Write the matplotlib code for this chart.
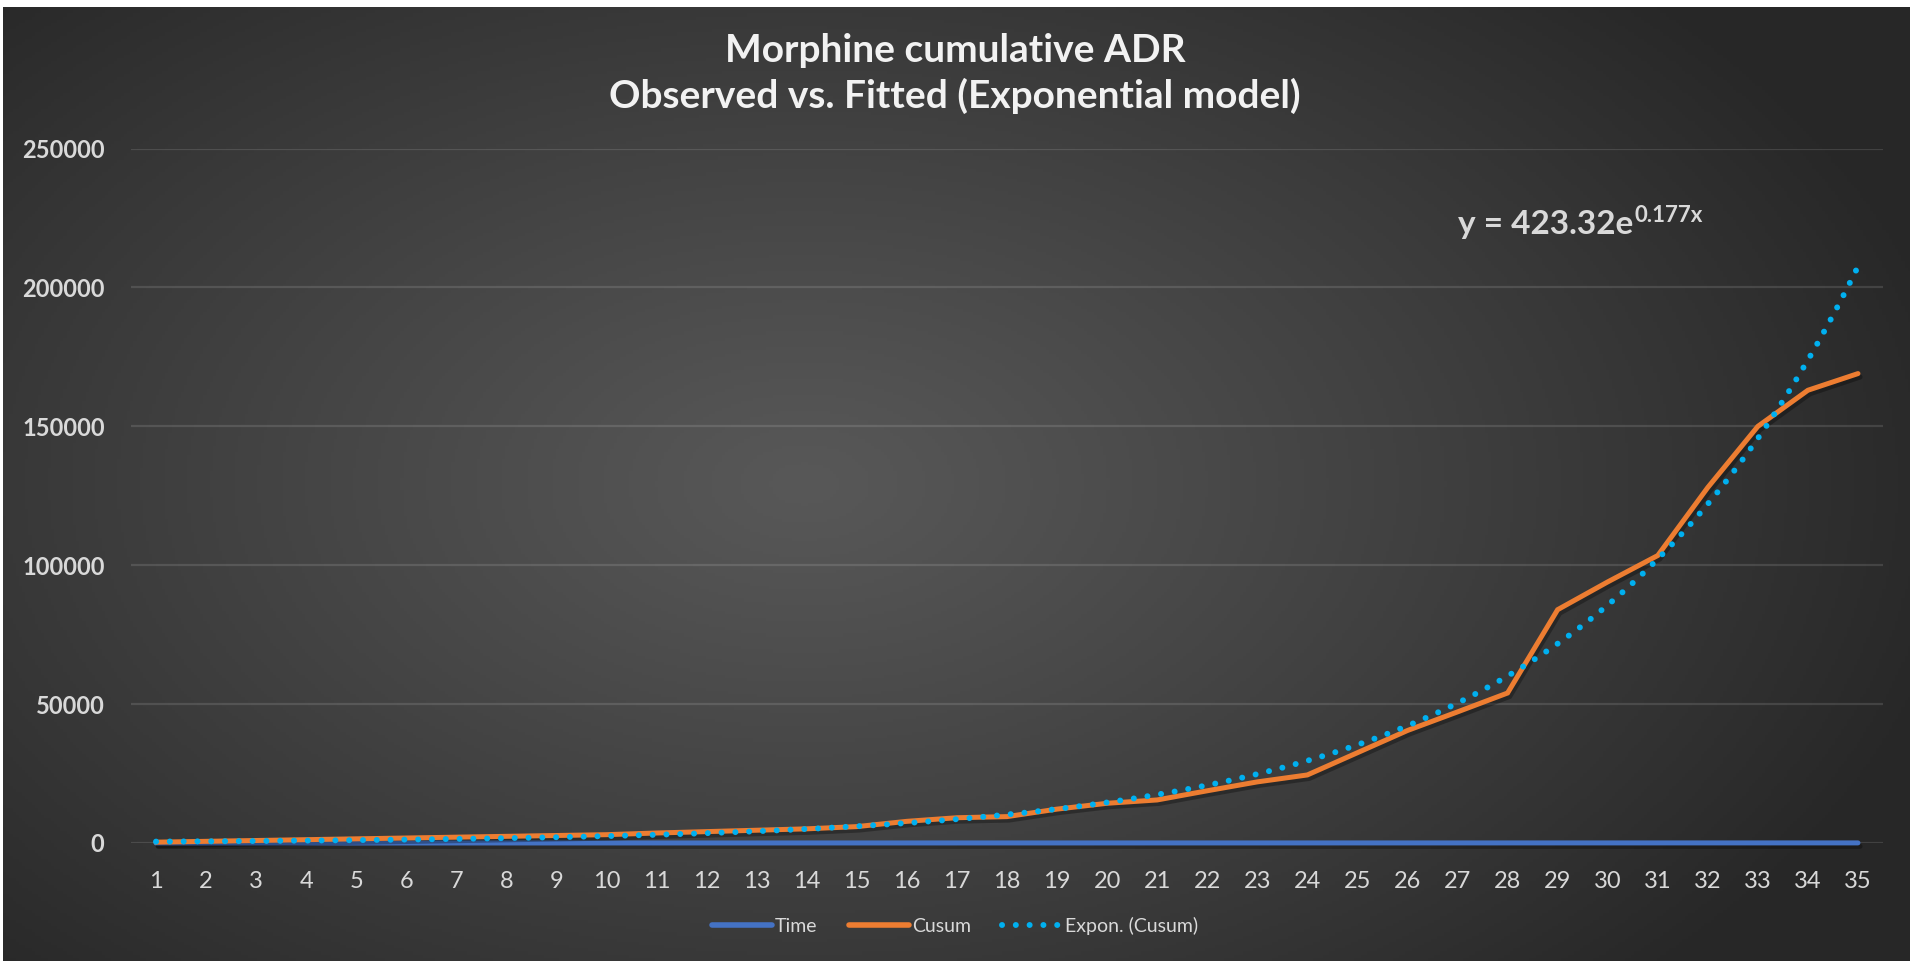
import numpy as np
import matplotlib
matplotlib.use("Agg")
import matplotlib.pyplot as plt
import matplotlib.patheffects as pe
from matplotlib.lines import Line2D

# ---- data -------------------------------------------------------------
periods = [1, 2, 3, 4, 5, 6, 7, 8, 9, 10, 11, 12, 13, 14, 15, 16, 17, 18,
           19, 20, 21, 22, 23, 24, 25, 26, 27, 28, 29, 30, 31, 32, 33, 34, 35]
time_values = [1, 2, 3, 4, 5, 6, 7, 8, 9, 10, 11, 12, 13, 14, 15, 16, 17, 18,
               19, 20, 21, 22, 23, 24, 25, 26, 27, 28, 29, 30, 31, 32, 33, 34, 35]
cusum = [300, 600, 900, 1200, 1500, 1800, 2100, 2400, 2700, 3000,
         3600, 4100, 4600, 5100, 5900, 7800, 9100, 9500, 12200, 14300,
         15500, 18800, 22000, 24500, 32500, 40500, 47200, 54000, 84000, 94000,
         103500, 128000, 150000, 163000, 169000]

# exponential trend  y = a * e^(b x)
fit_a = 423.32
fit_b = 0.177

y_ticks = [0, 50000, 100000, 150000, 200000, 250000]
title_lines = ["Morphine cumulative ADR", "Observed vs. Fitted (Exponential model)"]
legend_labels = ["Time", "Cusum", "Expon. (Cusum)"]

# ---- style ------------------------------------------------------------
FONT = "Lato"
plt.rcParams["font.family"] = [FONT, "DejaVu Sans"]

TEXT = "#d9d9d9"
BLUE = "#4472c4"
ORANGE = "#ed7d31"
CYAN = "#00b0f0"

W, H = 1910, 961
fig = plt.figure(figsize=(W / 100, H / 100), dpi=100, facecolor="white")

# dark panel with a soft radial gradient
bg = fig.add_axes([3 / W, 0, 1 - 3 / W, 1 - 7 / H], zorder=-5)
gy, gx = np.mgrid[0:1:300j, 0:1:600j]
dist = np.sqrt(((gx - 0.42) / 0.62) ** 2 + ((gy - 0.50) / 0.75) ** 2)
t = np.clip(dist, 0, 1) ** 1.1
center = np.array([0x58, 0x58, 0x58]) / 255
edge = np.array([0x27, 0x27, 0x27]) / 255
img = center[None, None, :] + (edge - center)[None, None, :] * t[..., None]
bg.imshow(img, extent=[0, 1, 0, 1], aspect="auto", origin="upper")
bg.set_axis_off()

# plotting area
left, right = 131 / W, 1883 / W
bottom, top = 1 - 843 / H, 1 - 148.6 / H
ax = fig.add_axes([left, bottom, right - left, top - bottom])
ax.set_facecolor("none")
for s in ax.spines.values():
    s.set_visible(False)

ax.set_xlim(0.5, 35.5)
ax.set_ylim(0, 250000)
ax.set_yticks(y_ticks)
ax.set_yticklabels([str(v) for v in y_ticks], fontsize=17, fontweight="bold", color=TEXT)
ax.set_xticks(periods)
ax.set_xticklabels([str(p) for p in periods], fontsize=17, color=TEXT)
ax.tick_params(axis="both", length=0)
ax.tick_params(axis="y", pad=19)
ax.tick_params(axis="x", pad=20)
ax.set_axisbelow(True)
for yv in y_ticks:
    ax.axhline(yv, color="white", alpha=0.12, linewidth=1.6, zorder=0)

shadow = [pe.SimpleLineShadow(offset=(1.5, -2.5), shadow_color="black", alpha=0.3),
          pe.Normal()]

ax.plot(periods, time_values, color=BLUE, linewidth=3.6, clip_on=False,
        solid_capstyle="round", zorder=3, path_effects=shadow)
ax.plot(periods, cusum, color=ORANGE, linewidth=3.6, clip_on=False,
        solid_capstyle="round", solid_joinstyle="miter", zorder=4, path_effects=shadow)

xf = np.linspace(periods[0], periods[-1], 600)
trend = fit_a * np.exp(fit_b * xf)
ax.plot(xf, trend, color=CYAN, linewidth=4.3, linestyle=(0, (0.01, 2.3)),
        dash_capstyle="round", zorder=5, clip_on=False)

# trend-line equation: base text plus superscript exponent
eq_x, eq_base = 1458 / W, 1 - 234 / H
eq_main = fig.text(eq_x, eq_base, f"y = {fit_a:.2f}e", fontsize=24, fontweight="bold",
                   color=TEXT, ha="left", va="baseline")
renderer = fig.canvas.get_renderer()
bb = eq_main.get_window_extent(renderer)
fig.text(bb.x1 / W + 1 / W, eq_base + 12 / H, f"{fit_b:.3f}x", fontsize=16,
         fontweight="bold", color=TEXT, ha="left", va="baseline")

# title
fig.text(0.5, 1 - 50 / H, title_lines[0], ha="center", va="center",
         fontsize=28, fontweight="bold", color="#f2f2f2")
fig.text(0.5, 1 - 96 / H, title_lines[1], ha="center", va="center",
         fontsize=28, fontweight="bold", color="#f2f2f2")

# legend
handles = [
    Line2D([], [], color=BLUE, linewidth=4, solid_capstyle="round"),
    Line2D([], [], color=ORANGE, linewidth=4, solid_capstyle="round"),
    Line2D([], [], color=CYAN, linewidth=4.3, linestyle=(0, (0.01, 2.3)),
           dash_capstyle="round"),
]
leg = fig.legend(handles, legend_labels, loc="center", bbox_to_anchor=(0.5, 1 - 926 / H),
                 ncol=3, frameon=False, fontsize=14, handlelength=3.1,
                 handletextpad=0.15, columnspacing=1.6)
for txt in leg.get_texts():
    txt.set_color(TEXT)

fig.savefig("out.png", dpi=100, facecolor="white")
